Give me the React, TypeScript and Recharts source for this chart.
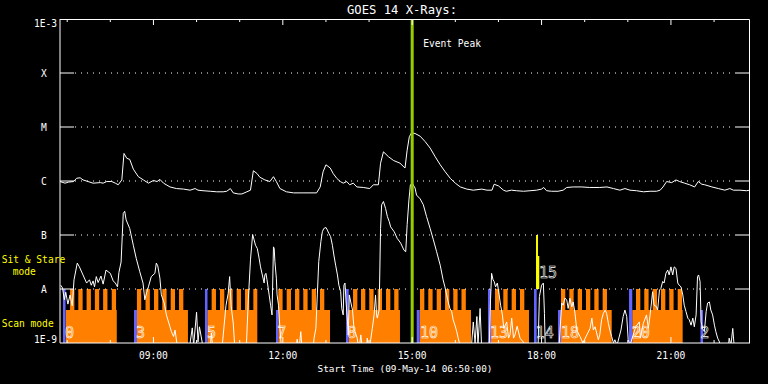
import React from 'react';
import { ComposedChart, XAxis, YAxis, Line, Area, Scatter, ReferenceLine } from 'recharts';

const MONO = "'DejaVu Sans Mono', 'Liberation Mono', monospace";

// time = minutes after 06:50 UT, value = log10 of flux (W/m^2)
const longChannel: [number, number][] = [
	[0, -6.01], [7, -6.04], [12, -6.02], [19, -6.01], [23, -5.95], [28, -5.94], [32, -5.98], [39, -6.01],
	[46, -6.04], [56, -6.03], [60, -6.04], [65, -6.01], [72, -6.01], [77, -6.04], [81, -6.07], [86, -5.98],
	[89, -5.49], [93, -5.58], [97, -5.6], [102, -5.78], [109, -5.92], [116, -5.98], [123, -6.04], [130, -5.99],
	[135, -6.01], [139, -5.97], [144, -6.04], [153, -6.11], [162, -6.14], [172, -6.15], [181, -6.17], [188, -6.14],
	[192, -6.17], [199, -6.18], [209, -6.19], [218, -6.2], [227, -6.2], [232, -6.19], [237, -6.14], [241, -6.22],
	[248, -6.24], [253, -6.24], [260, -6.2], [265, -6.17], [269, -5.81], [274, -5.86], [278, -5.93], [285, -5.98],
	[292, -6.01], [297, -5.92], [301, -6.01], [306, -6.14], [315, -6.2], [325, -6.22], [338, -6.22], [352, -6.22],
	[357, -6.22], [362, -6.11], [366, -5.83], [370, -5.7], [376, -5.76], [380, -5.86], [385, -5.95], [390, -6.01],
	[394, -6.04], [399, -6.01], [403, -6.07], [408, -6.04], [413, -6.11], [422, -6.12], [431, -6.14], [436, -6.07],
	[443, -6.07], [446, -5.67], [450, -5.46], [457, -5.55], [464, -5.62], [473, -5.67], [480, -5.76], [483, -5.43],
	[486, -5.18], [489, -5.11], [494, -5.12], [501, -5.17], [508, -5.27], [515, -5.39], [522, -5.55], [529, -5.7],
	[536, -5.83], [543, -5.95], [550, -6.04], [557, -6.11], [566, -6.15], [575, -6.17], [587, -6.15], [594, -6.17],
	[601, -6.17], [604, -6.06], [610, -6.09], [617, -6.17], [621, -6.19], [628, -6.17], [635, -6.18], [645, -6.19],
	[654, -6.18], [663, -6.17], [670, -6.15], [673, -6.12], [677, -6.18], [684, -6.19], [693, -6.19], [700, -6.17],
	[705, -6.12], [714, -6.11], [726, -6.11], [737, -6.12], [751, -6.12], [761, -6.11], [770, -6.14], [779, -6.17],
	[786, -6.14], [793, -6.17], [802, -6.18], [812, -6.2], [821, -6.19], [830, -6.19], [835, -6.17], [839, -6.11],
	[844, -6.01], [851, -6.03], [857, -5.98], [862, -6.01], [869, -6.04], [876, -6.07], [883, -6.11], [888, -6.01],
	[893, -6.06], [897, -6.07], [907, -6.11], [916, -6.14], [925, -6.17], [932, -6.14], [937, -6.17], [946, -6.17],
	[955, -6.18], [960, -6.17],
];

const shortChannel: [number, number][] = [
	[1, -7.93], [3.5, -7.98], [6, -8.2], [8, -8.06], [11, -8.28], [14, -8.11], [17, -8.31], [19.5, -7.83],
	[24, -7.52], [27, -7.59], [32, -7.74], [37, -7.89], [41, -7.83], [43.5, -7.93], [46, -7.85], [48, -7.96],
	[50.5, -7.77], [53, -7.88], [57, -7.76], [60, -7.91], [64, -7.65], [67, -7.68], [70, -7.71], [74, -7.85],
	[77, -7.89], [80, -7.96], [82, -7.69], [85, -7.5], [88, -6.6], [90, -6.56], [92, -6.72], [97, -6.88],
	[102, -7.19], [106, -7.43], [111, -7.68], [115.5, -7.89], [118, -8.2], [120.5, -8.07], [123, -7.96], [127, -7.77],
	[132, -7.71], [134, -7.52], [136, -7.57], [139, -7.8], [141, -8.11], [145, -8.26], [148, -8.48], [153, -8.7],
	[155, -8.79], [158, -8.88], [160, -8.76], [163, -9.04], [167, -9.15], [178, -9.15], [181, -9.0], [184, -8.72],
	[186, -9.04], [190, -8.43], [192, -8.98], [194, -8.7], [198, -9.0], [200, -9.15], [209, -9.15], [210.5, -8.81],
	[213, -9.15], [225, -9.15], [231, -8.3], [234, -8.08], [236, -7.77], [238, -8.3], [241, -8.63], [243, -9.04],
	[259, -9.15], [262, -8.2], [265, -7.46], [268, -6.99], [270, -7.09], [272, -7.19], [274.5, -7.25], [277, -7.43],
	[279, -7.59], [281.5, -7.74], [284, -7.89], [285, -7.74], [286.5, -7.71], [288, -7.83], [291, -8.11], [293, -8.3],
	[295, -8.48], [297, -7.22], [298, -7.25], [299, -7.49], [301, -7.8], [302, -8.11], [304, -8.3], [306, -8.73],
	[307.5, -9.0], [310, -9.15], [328, -9.15], [330, -8.93], [332.5, -9.15], [335, -8.79], [337, -9.15], [352, -9.15],
	[353.5, -8.91], [356, -8.73], [358, -8.11], [360, -7.49], [363, -7.12], [365, -6.94], [367, -6.88], [370, -6.86],
	[372, -6.91], [374, -6.97], [376.5, -7.03], [379, -7.19], [381, -7.37], [383.5, -7.56], [386, -7.74], [388, -7.93],
	[390.5, -8.05], [392, -8.36], [394, -8.48], [395, -7.93], [396.5, -7.89], [398, -8.24], [400, -8.61], [401, -8.85],
	[402.5, -8.11], [404.5, -8.24], [407, -8.39], [409, -8.73], [413.5, -8.91], [416, -9.15], [418.5, -8.85], [421, -9.15],
	[426, -9.15], [427.5, -8.91], [430, -9.15], [434.5, -8.73], [437, -8.48], [439, -8.11], [440.5, -8.48], [441.5, -8.54],
	[444, -8.39], [446, -6.88], [447.5, -6.44], [450, -6.38], [453, -6.51], [455.5, -6.66], [458, -6.75], [460, -6.85],
	[465, -6.94], [469, -7.06], [474, -7.15], [478.5, -7.28], [481, -7.31], [483, -6.81], [485.5, -6.35], [487.5, -6.07],
	[490, -6.04], [494, -6.13], [496, -6.26], [501, -6.33], [505.5, -6.44], [510, -6.66], [515, -6.88], [519.5, -7.09],
	[524, -7.31], [529, -7.56], [533, -7.83], [535.5, -7.96], [538, -8.11], [540, -8.24], [542.5, -8.36], [545, -8.42],
	[547, -8.57], [549.5, -8.67], [552, -8.79], [554, -8.91], [556.5, -9.04], [559, -9.15], [572, -9.15], [575, -8.61],
	[577.5, -9.0], [580, -8.51], [581.5, -9.04], [584.5, -8.36], [586.5, -9.04], [588.5, -9.15], [597, -9.15], [599, -8.2],
	[600.5, -7.71], [602.5, -7.83], [604, -7.86], [606, -7.96], [608.5, -7.89], [611, -8.11], [613, -8.3], [615.5, -8.48],
	[617.5, -8.73], [621.5, -8.61], [624, -8.91], [626, -8.85], [628.5, -8.54], [631, -8.91], [633, -8.85], [636, -8.69],
	[640, -8.91], [644.5, -8.98], [648, -9.15], [665, -9.15], [667, -8.14], [670, -7.93], [672.5, -7.89], [674, -8.45],
	[675, -9.0], [677.5, -9.15], [694, -9.15], [698, -8.26], [700, -8.3], [702.5, -8.17], [705, -8.2], [707, -8.36],
	[709.5, -8.17], [712, -8.33], [714, -8.24], [716.5, -8.45], [719, -8.76], [723.5, -8.88], [727.5, -9.0], [733, -8.85],
	[737.5, -8.73], [740, -8.54], [742, -8.76], [744.5, -8.7], [749, -8.94], [751, -8.85], [753.5, -8.57], [756, -8.45],
	[758.5, -8.39], [760.5, -8.45], [763, -8.64], [765, -8.76], [767.5, -8.88], [770, -9.0], [772, -8.94], [775, -9.04],
	[780.5, -8.76], [783.5, -8.51], [786, -8.39], [788.5, -8.51], [790.5, -8.94], [793, -9.04], [794.5, -8.98], [801, -8.7],
	[806, -8.61], [807.5, -8.91], [811.5, -8.64], [816, -8.48], [818.5, -8.73], [821, -8.48], [823, -8.24], [824.5, -8.05],
	[826.5, -8.3], [830, -8.33], [831.5, -8.39], [834, -8.02], [836, -7.99], [838.5, -7.86], [840.5, -7.89], [843, -7.71],
	[845.5, -7.65], [847.5, -7.74], [850, -7.59], [852.5, -7.74], [854.5, -7.59], [857, -7.62], [859.5, -7.89], [861.5, -7.93],
	[864, -7.96], [866.5, -8.11], [868.5, -8.3], [871, -8.42], [873.5, -8.54], [875.5, -8.57], [878, -8.67], [880.5, -8.54],
	[882.5, -8.7], [885, -8.48], [887, -7.77], [888.5, -7.74], [890.5, -7.86], [892, -8.61], [894, -8.73], [896.5, -8.79],
	[899, -8.42], [901, -8.26], [903.5, -8.24], [905.5, -8.39], [908, -8.48], [910.5, -8.67], [912.5, -8.79], [915, -8.91],
	[917.5, -8.98], [920, -9.15], [929.5, -9.15], [931, -8.91], [933.5, -9.04], [936, -8.73], [937.5, -8.98], [939, -9.15],
	[960, -9.15],
];

// scan-mode rasters: block start/end and the start of each raster tooth (minutes after 06:50)
const scanBlocks = [
	{ start: 8, end: 79, teeth: [14, 25.5, 37, 48.5, 60, 72] },
	{ start: 107, end: 178, teeth: [107, 119, 130.8, 142.3, 154, 165.6] },
	{ start: 205, end: 274.5, teeth: [211, 222.6, 234.2, 245.8, 257.4, 269] },
	{ start: 303.7, end: 375.7, teeth: [303.7, 315.4, 327, 338.5, 350.2, 361.7] },
	{ start: 401.7, end: 473, teeth: [407.7, 418.8, 430.3, 442, 453.6, 465] },
	{ start: 500.4, end: 571.8, teeth: [500.9, 512.4, 524.1, 535.7, 547.2, 558.6] },
	{ start: 599.7, end: 652.5, teeth: [605.2, 616.8, 628.4, 640] },
	{ start: 697, end: 767.6, teeth: [697, 708.6, 720.3, 731.8, 743.4, 755] },
	{ start: 796.2, end: 866.3, teeth: [801.4, 812.9, 824.6, 836.2, 847.7, 859.4] },
];
const toothLength = 6;
const scanBody = -8.39;
const scanTop = -8;

// pointing changes: [start, end, top level]
const blueBars: [number, number, number][] = [
	[4.2, 7.7, -8], [103, 107.1, -8.39], [201.7, 205.2, -8], [300.5, 303.7, -8.39],
	[397.9, 401.7, -8], [496.3, 500.4, -8.39], [595.5, 599.7, -8], [659.5, 663.2, -8],
	[692.9, 697, -8.39], [791.7, 796.2, -8], [891.1, 894.6, -8.39],
];
const sitStareBars: [number, number, number][] = [[662.3, 665, -7], [665, 666.8, -7.39]];

const blockLabels = [
	{ t: 7, v: -8.81, text: '0' }, { t: 105.7, v: -8.81, text: '3' }, { t: 204.5, v: -8.81, text: '5' },
	{ t: 302.3, v: -8.81, text: '7' }, { t: 399.7, v: -8.81, text: '8' }, { t: 500.9, v: -8.81, text: '10' },
	{ t: 598.3, v: -8.81, text: '13' }, { t: 661.8, v: -8.81, text: '14' }, { t: 697, v: -8.81, text: '18' },
	{ t: 795.4, v: -8.81, text: '20' }, { t: 890.8, v: -8.81, text: '2' }, { t: 666.4, v: -7.69, text: '15' },
];

const peakTime = 490;
const classLevels = [-9, -8, -7, -6, -5, -4, -3];
const classNames = ['1E-9', 'A', 'B', 'C', 'M', 'X', '1E-3'];
const gridLevels = [-8, -7, -6, -5, -4];
const hourTicks = [10, 70, 130, 190, 250, 310, 370, 430, 490, 550, 610, 670, 730, 790, 850, 910];
const majorTicks = [130, 310, 490, 670, 850];

const W = 768;
const H = 384;
const margin = { top: 19, right: 18, bottom: 0, left: 0 };
const yAxisWidth = 60;
const xAxisHeight = 41;
const plot = {
	left: margin.left + yAxisWidth,
	right: W - margin.right,
	top: margin.top,
	bottom: H - margin.bottom - xAxisHeight,
};

const longData = longChannel.map(([t, v]) => ({ t, v }));
const shortData = shortChannel.map(([t, v]) => ({ t, v }));

const scanData: { t: number; v: number }[] = [{ t: 0, v: -9 }];
scanBlocks.forEach(b => {
	scanData.push({ t: b.start, v: scanBody });
	b.teeth.forEach(s => {
		scanData.push({ t: s, v: scanTop });
		scanData.push({ t: Math.min(s + toothLength, b.end), v: scanBody });
	});
	scanData.push({ t: b.end, v: -9 });
});
scanData.push({ t: 960, v: -9 });

const barsToSteps = (bars: [number, number, number][], base: number) => {
	const out: { t: number; v: number }[] = [{ t: 0, v: base }];
	bars.forEach(([s, e, top]) => {
		out.push({ t: s, v: top });
		out.push({ t: e, v: base });
	});
	out.push({ t: 960, v: base });
	return out;
};
const blueData = barsToSteps(blueBars, -9);
const yellowData = barsToSteps(sitStareBars, -8);

const clock = (m: number) => {
	const total = 6 * 60 + 50 + m;
	const h = Math.floor(total / 60) % 24;
	const mm = total % 60;
	return `${String(h).padStart(2, '0')}:${String(mm).padStart(2, '0')}`;
};

// left labels with inward ticks on both sides of the frame
const LeftTick = (p: any) => {
	const v = p.payload.value;
	const i = classLevels.indexOf(v);
	const edge = v === -9 || v === -3;
	const dy = v === -3 ? 8 : v === -9 ? 0 : 4;
	return (
		<g>
			{!edge && <path d={`M${p.x},${p.y}h14M${plot.right - 14},${p.y}h14`} stroke='#fff' strokeWidth={1} fill='none' />}
			<text x={edge ? p.x - 3 : p.x - 16} y={p.y + dy} textAnchor={edge ? 'end' : 'middle'} fill='#fff' stroke='none' fontSize={9.6} fontFamily={MONO}>
				{classNames[i]}
			</text>
		</g>
	);
};

// hour marks point inward from the bottom and the top edge
const BottomTick = (p: any) => {
	const major = majorTicks.includes(p.payload.value);
	const len = major ? 6 : 3;
	return (
		<g>
			<path d={`M${p.x},${p.y}v${-len}M${p.x},${plot.top}v${len}`} stroke='#fff' strokeWidth={1} fill='none' />
			{major && (
				<text x={p.x} y={p.y + 16} textAnchor='middle' fill='#fff' stroke='none' fontSize={9.6} fontFamily={MONO}>
					{clock(p.payload.value)}
				</text>
			)}
		</g>
	);
};

const DottedLevel = (p: any) => {
	const xa = Math.min(p.x1, p.x2);
	const xb = Math.max(p.x1, p.x2);
	return <line x1={xa + 15} x2={xb - 14} y1={p.y1} y2={p.y1} stroke='#fff' strokeDasharray='1 5' />;
};

const PeakLabel = (p: any) => (
	<text x={p.viewBox.x + 11} y={p.viewBox.y + 28} fill='#fff' fontSize={9.6} fontFamily={MONO}>
		Event Peak
	</text>
);

const BlockLabel = (p: any) => (
	<text x={p.cx} y={p.cy} dy='0.36em' fill='none' stroke='#fff' strokeWidth={0.6} fontSize={15} fontFamily={MONO}>
		{p.payload.text}
	</text>
);

export default function App() {
	return (
		<div style={{ position: 'fixed', left: 0, top: 0, width: W, height: H, background: '#000', overflow: 'hidden' }}>
			<ComposedChart width={W} height={H} margin={margin}>
				{gridLevels.map(v => (
					<ReferenceLine key={'g' + v} y={v} shape={DottedLevel} />
				))}
				<Area data={scanData} dataKey='v' type='stepAfter' baseValue={-9} fill='#ff8000' fillOpacity={1} stroke='none' isAnimationActive={false} />
				<Area data={blueData} dataKey='v' type='stepAfter' baseValue={-9} fill='#6464ff' fillOpacity={1} stroke='none' isAnimationActive={false} />
				<Area data={yellowData} dataKey='v' type='stepAfter' baseValue={-8} fill='#ffff00' fillOpacity={1} stroke='none' isAnimationActive={false} />
				<Line data={shortData} dataKey='v' stroke='#fff' strokeWidth={1} dot={false} isAnimationActive={false} />
				<Line data={longData} dataKey='v' stroke='#fff' strokeWidth={1} dot={false} isAnimationActive={false} />
				<ReferenceLine x={peakTime} stroke='#99cc00' strokeWidth={3} label={PeakLabel} />
				<Scatter data={blockLabels} dataKey='v' shape={BlockLabel} isAnimationActive={false} />
				<XAxis
					dataKey='t'
					type='number'
					domain={[0, 960]}
					allowDataOverflow
					ticks={hourTicks}
					interval={0}
					height={xAxisHeight}
					tickSize={0}
					tickMargin={0}
					tickLine={false}
					axisLine={{ stroke: '#fff' }}
					tick={BottomTick}
				/>
				<YAxis
					type='number'
					domain={[-9, -3]}
					allowDataOverflow
					ticks={classLevels}
					interval={0}
					width={yAxisWidth}
					tickSize={0}
					tickMargin={0}
					tickLine={false}
					axisLine={{ stroke: '#fff' }}
					tick={LeftTick}
				/>
			</ComposedChart>
			<svg width={W} height={H} style={{ position: 'absolute', left: 0, top: 0, pointerEvents: 'none' }}>
				{/* top and right edges of the plot frame */}
				<path d={`M${plot.left},${plot.top + 0.5}H${plot.right - 0.5}V${plot.bottom}`} stroke='#fff' strokeWidth={1} fill='none' />
				<text x={402} y={14} textAnchor='middle' fill='#fff' fontSize={12.2} fontFamily={MONO}>GOES 14 X-Rays:</text>
				<text x={405} y={371.5} textAnchor='middle' fill='#fff' fontSize={9.4} fontFamily={MONO}>Start Time (09-May-14 06:50:00)</text>
				<text x={1.7} y={263} fill='#ffff00' fontSize={9.6} fontFamily={MONO}>Sit &amp; Stare</text>
				<text x={12.7} y={275} fill='#ffff00' fontSize={9.6} fontFamily={MONO}>mode</text>
				<text x={1.7} y={327} fill='#ffff00' fontSize={9.6} fontFamily={MONO}>Scan mode</text>
			</svg>
		</div>
	);
}
